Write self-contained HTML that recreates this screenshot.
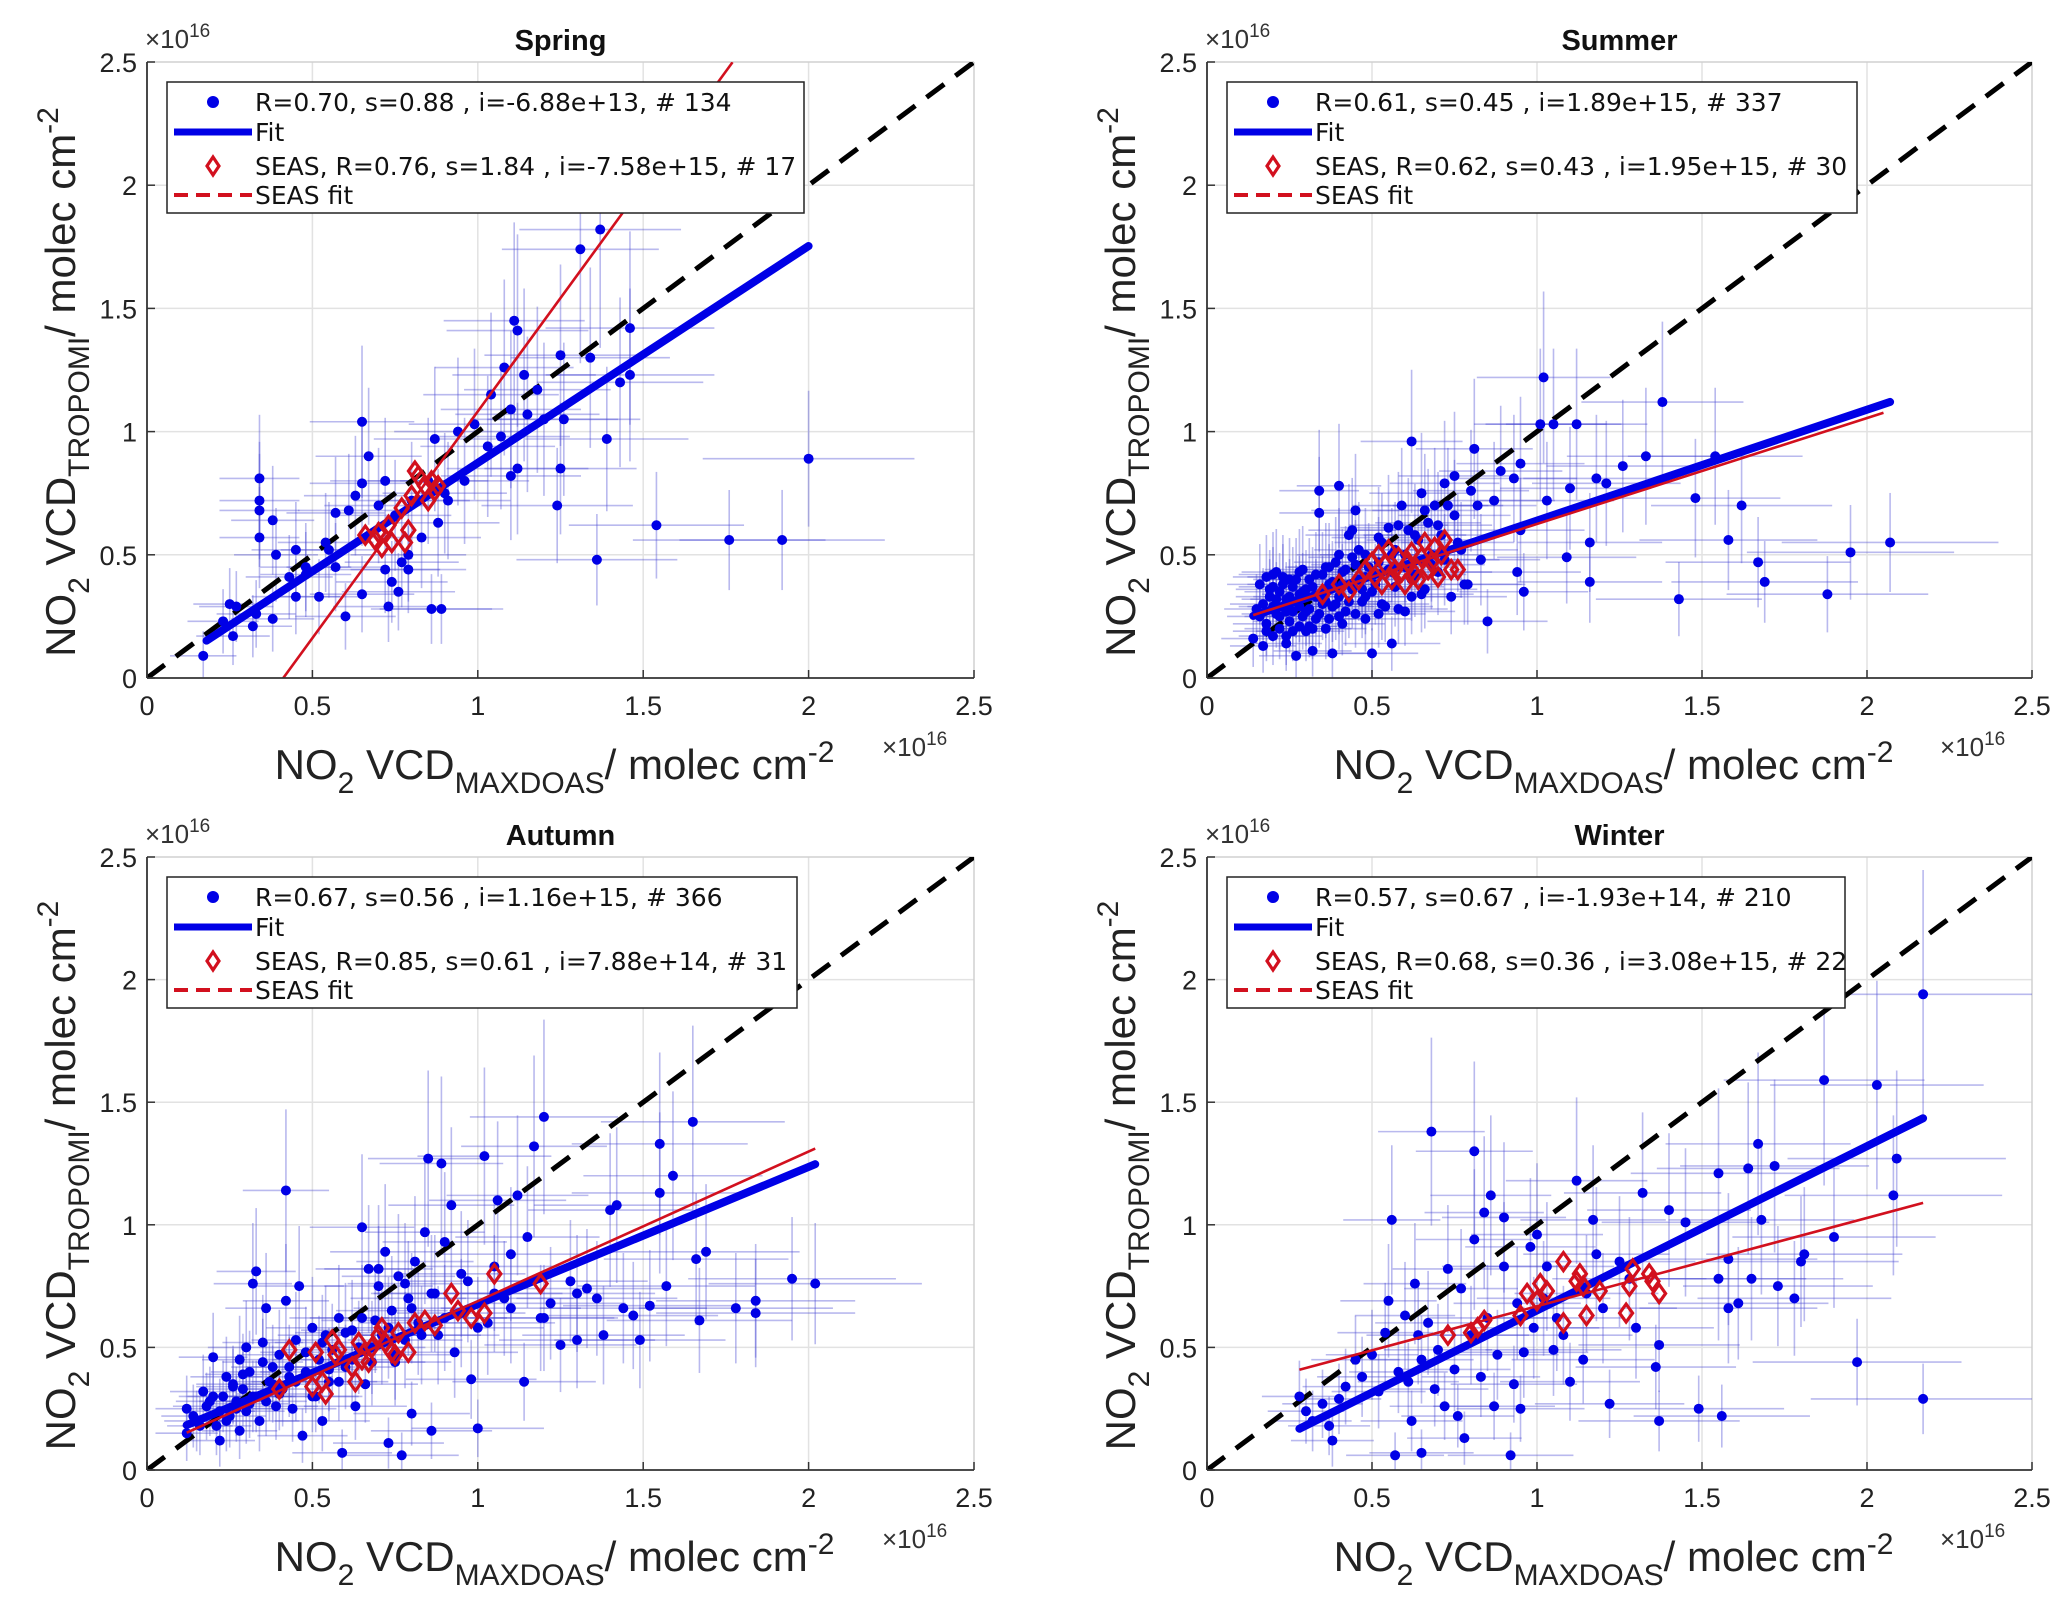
<!DOCTYPE html>
<html><head><meta charset="utf-8"><title>NO2 VCD TROPOMI vs MAXDOAS seasonal scatter</title>
<style>
html,body{margin:0;padding:0;background:#fff;}
svg{display:block;font-family:"Liberation Sans","DejaVu Sans",sans-serif;}
</style></head>
<body>
<svg id="fig" width="2067" height="1599" viewBox="0 0 2067 1599" xmlns="http://www.w3.org/2000/svg"></svg>
<script>
// ---------- data (units of 1e16 molec cm^-2) ----------
const tickValues = [0, 0.5, 1, 1.5, 2, 2.5];
const tickLabels = ["0", "0.5", "1", "1.5", "2", "2.5"];
const seasonNames = ["Spring", "Summer", "Autumn", "Winter"];
const legendStats = ["R=0.70, s=0.88 , i=-6.88e+13, # 134", "R=0.61, s=0.45 , i=1.89e+15, # 337", "R=0.67, s=0.56 , i=1.16e+15, # 366", "R=0.57, s=0.67 , i=-1.93e+14, # 210"];
const legendSeas = ["SEAS, R=0.76, s=1.84 , i=-7.58e+15, # 17", "SEAS, R=0.62, s=0.43 , i=1.95e+15, # 30", "SEAS, R=0.85, s=0.61 , i=7.88e+14, # 31", "SEAS, R=0.68, s=0.36 , i=3.08e+15, # 22"];
const fitSlope = [0.88, 0.45, 0.56, 0.67];
const fitIntercept = [-0.00688, 0.189, 0.116, -0.0193];
const fitRange = [[0.18, 2.0], [0.14, 2.07], [0.12, 2.02], [0.28, 2.17]];
const seasSlope = [1.84, 0.43, 0.61, 0.36];
const seasIntercept = [-0.758, 0.195, 0.0788, 0.308];
const seasRange = [[0.41, 1.77], [0.14, 2.05], [0.12, 2.02], [0.28, 2.17]];

const springX = [0.17,0.23,0.25,0.26,0.27,0.32,0.33,0.34,0.34,0.34,0.34,0.38,0.38,0.39,0.43,0.45,0.45,0.48,0.48,0.52,0.54,0.55,0.57,0.57,0.6,0.61,0.63,0.65,0.65,0.65,0.67,0.7,0.72,0.72,0.73,0.74,0.75,0.76,0.77,0.79,0.79,0.8,0.83,0.85,0.86,0.87,0.88,0.89,0.9,0.91,0.94,0.96,0.99,1.03,1.04,1.07,1.08,1.1,1.1,1.11,1.12,1.12,1.14,1.15,1.18,1.2,1.24,1.25,1.25,1.26,1.31,1.34,1.36,1.37,1.39,1.43,1.46,1.46,1.54,1.76,1.92,2.0];
const springY = [0.09,0.23,0.3,0.17,0.29,0.21,0.26,0.81,0.72,0.68,0.57,0.24,0.64,0.5,0.41,0.52,0.33,0.45,0.42,0.33,0.55,0.52,0.45,0.67,0.25,0.68,0.74,0.34,0.79,1.04,0.9,0.7,0.8,0.44,0.29,0.39,0.66,0.35,0.47,0.5,0.44,0.72,0.57,0.8,0.28,0.97,0.63,0.28,0.75,0.72,1.0,0.8,1.03,0.94,1.15,0.98,1.26,0.82,1.09,1.45,1.41,0.85,1.23,1.07,1.17,1.05,0.7,1.31,0.85,1.05,1.74,1.3,0.48,1.82,0.97,1.2,1.42,1.23,0.62,0.56,0.56,0.89];
const springSeasX = [0.66,0.69,0.7,0.71,0.73,0.74,0.77,0.78,0.79,0.8,0.81,0.82,0.84,0.85,0.86,0.87,0.88];
const springSeasY = [0.58,0.56,0.59,0.53,0.62,0.55,0.69,0.55,0.6,0.74,0.84,0.82,0.78,0.72,0.8,0.76,0.78];

const summerX = [0.14,0.15,0.16,0.17,0.17,0.18,0.18,0.19,0.2,0.2,0.21,0.21,0.22,0.22,0.23,0.23,0.24,0.24,0.25,0.25,0.26,0.26,0.27,0.27,0.28,0.28,0.29,0.29,0.3,0.3,0.31,0.31,0.32,0.33,0.33,0.34,0.34,0.35,0.35,0.36,0.37,0.37,0.38,0.38,0.39,0.4,0.4,0.41,0.41,0.42,0.43,0.43,0.44,0.45,0.45,0.46,0.47,0.48,0.48,0.49,0.5,0.51,0.52,0.53,0.54,0.55,0.56,0.56,0.57,0.58,0.59,0.6,0.61,0.62,0.62,0.63,0.64,0.65,0.66,0.67,0.68,0.69,0.7,0.71,0.72,0.74,0.75,0.75,0.77,0.78,0.8,0.81,0.83,0.85,0.87,0.89,0.93,0.94,0.95,0.95,0.96,1.01,1.02,1.03,1.05,1.09,1.1,1.12,1.16,1.16,1.18,1.21,1.26,1.33,1.38,1.43,1.48,1.54,1.58,1.62,1.67,1.69,1.88,1.95,2.07];
const summerY = [0.16,0.28,0.38,0.13,0.3,0.22,0.41,0.33,0.17,0.37,0.26,0.43,0.2,0.35,0.29,0.41,0.14,0.32,0.23,0.4,0.27,0.37,0.09,0.31,0.21,0.34,0.25,0.44,0.19,0.36,0.28,0.4,0.11,0.24,0.33,0.76,0.67,0.3,0.42,0.2,0.38,0.45,0.1,0.29,0.47,0.33,0.78,0.22,0.38,0.44,0.31,0.58,0.49,0.26,0.68,0.4,0.36,0.5,0.24,0.45,0.1,0.38,0.47,0.55,0.29,0.61,0.14,0.43,0.52,0.28,0.7,0.45,0.6,0.33,0.96,0.42,0.56,0.75,0.36,0.63,0.5,0.7,0.43,0.58,0.79,0.33,0.66,0.82,0.52,0.38,0.76,0.93,0.48,0.23,0.72,0.84,0.81,0.43,0.87,0.6,0.35,1.03,1.22,0.72,1.03,0.49,0.77,1.03,0.55,0.39,0.81,0.79,0.86,0.9,1.12,0.32,0.73,0.9,0.56,0.7,0.47,0.39,0.34,0.51,0.55];
const summerX2 = [0.16,0.18,0.19,0.2,0.21,0.22,0.23,0.24,0.25,0.26,0.27,0.28,0.29,0.3,0.31,0.32,0.33,0.34,0.35,0.36,0.37,0.38,0.39,0.4,0.41,0.42,0.44,0.45,0.46,0.47,0.48,0.5,0.52,0.53,0.55,0.57,0.58,0.6,0.62,0.63,0.65,0.66,0.68,0.7,0.72,0.73,0.76,0.79,0.82,0.2,0.24,0.28,0.32,0.36,0.4,0.44,0.48,0.52,0.56,0.6];
const summerY2 = [0.25,0.19,0.36,0.29,0.32,0.25,0.38,0.27,0.33,0.19,0.4,0.29,0.35,0.27,0.21,0.37,0.42,0.26,0.34,0.45,0.24,0.39,0.3,0.5,0.43,0.27,0.36,0.46,0.52,0.31,0.41,0.35,0.57,0.3,0.44,0.37,0.62,0.5,0.4,0.58,0.34,0.68,0.46,0.62,0.48,0.7,0.55,0.38,0.7,0.42,0.17,0.43,0.2,0.31,0.25,0.6,0.33,0.26,0.5,0.27];
const summerSeasX = [0.35,0.4,0.43,0.46,0.48,0.5,0.51,0.52,0.53,0.54,0.55,0.56,0.57,0.58,0.59,0.6,0.61,0.62,0.63,0.64,0.65,0.66,0.67,0.68,0.69,0.7,0.71,0.72,0.74,0.76];
const summerSeasY = [0.34,0.38,0.35,0.4,0.44,0.47,0.41,0.5,0.38,0.46,0.52,0.4,0.44,0.49,0.43,0.38,0.47,0.51,0.42,0.4,0.49,0.55,0.44,0.47,0.53,0.41,0.5,0.56,0.44,0.44];

const autumnX = [0.12,0.12,0.15,0.17,0.19,0.2,0.21,0.22,0.23,0.24,0.25,0.26,0.27,0.28,0.28,0.29,0.3,0.3,0.31,0.32,0.32,0.33,0.34,0.35,0.36,0.37,0.38,0.39,0.4,0.41,0.42,0.42,0.43,0.44,0.45,0.46,0.47,0.48,0.5,0.51,0.52,0.53,0.54,0.55,0.56,0.58,0.59,0.6,0.62,0.63,0.64,0.65,0.66,0.67,0.68,0.69,0.7,0.71,0.72,0.73,0.74,0.75,0.76,0.77,0.78,0.79,0.8,0.81,0.82,0.84,0.85,0.86,0.87,0.88,0.89,0.9,0.92,0.93,0.95,0.97,0.98,1.0,1.02,1.03,1.05,1.06,1.08,1.1,1.12,1.14,1.15,1.17,1.19,1.2,1.22,1.25,1.28,1.3,1.33,1.36,1.38,1.4,1.42,1.44,1.47,1.49,1.52,1.55,1.55,1.57,1.59,1.65,1.66,1.67,1.69,1.78,1.84,1.84,1.95,2.02];
const autumnY = [0.15,0.25,0.2,0.32,0.28,0.46,0.18,0.12,0.3,0.38,0.22,0.35,0.28,0.45,0.16,0.33,0.5,0.24,0.4,0.76,0.3,0.81,0.2,0.52,0.66,0.36,0.42,0.26,0.47,0.33,1.14,0.69,0.38,0.25,0.53,0.75,0.14,0.4,0.58,0.3,0.45,0.2,0.55,0.36,0.49,0.62,0.07,0.42,0.57,0.26,0.5,0.99,0.35,0.82,0.44,0.61,0.75,0.55,0.89,0.11,0.65,0.47,0.79,0.06,0.53,0.7,0.23,0.85,0.6,0.97,1.27,0.16,0.72,0.55,1.25,0.93,1.08,0.48,0.64,0.77,0.37,0.17,1.28,0.6,0.83,1.1,0.7,0.88,1.12,0.36,0.95,1.32,0.62,1.44,0.68,0.51,0.77,0.53,0.74,0.7,0.55,1.06,1.08,0.66,0.63,0.53,0.67,1.33,1.13,0.75,1.2,1.42,0.86,0.61,0.89,0.66,0.69,0.64,0.78,0.76];
const autumnX2 = [0.14,0.16,0.18,0.2,0.22,0.24,0.26,0.27,0.29,0.31,0.33,0.35,0.36,0.38,0.4,0.43,0.45,0.48,0.5,0.53,0.55,0.58,0.6,0.62,0.65,0.68,0.7,0.73,0.75,0.78,0.8,0.83,0.86,0.9,0.95,1.0,1.05,1.1,1.2,1.3];
const autumnY2 = [0.22,0.18,0.26,0.3,0.24,0.2,0.34,0.25,0.39,0.27,0.3,0.44,0.28,0.35,0.31,0.42,0.36,0.48,0.3,0.52,0.41,0.36,0.56,0.45,0.62,0.5,0.82,0.58,0.44,0.76,0.66,0.55,0.72,0.62,0.8,0.58,0.72,0.66,0.62,0.72];
const autumnSeasX = [0.4,0.43,0.5,0.51,0.53,0.54,0.56,0.57,0.58,0.62,0.63,0.64,0.65,0.67,0.68,0.7,0.71,0.72,0.74,0.75,0.76,0.79,0.81,0.84,0.87,0.92,0.94,0.98,1.02,1.05,1.19];
const autumnSeasY = [0.33,0.49,0.34,0.48,0.36,0.31,0.53,0.47,0.49,0.42,0.36,0.52,0.45,0.44,0.5,0.55,0.58,0.52,0.48,0.47,0.56,0.48,0.6,0.61,0.59,0.72,0.65,0.62,0.64,0.8,0.76];

const winterX = [0.28,0.3,0.32,0.35,0.37,0.38,0.4,0.42,0.45,0.47,0.5,0.52,0.54,0.55,0.56,0.57,0.58,0.6,0.61,0.62,0.63,0.64,0.65,0.65,0.67,0.68,0.69,0.7,0.72,0.73,0.75,0.76,0.77,0.78,0.8,0.81,0.81,0.83,0.84,0.85,0.86,0.87,0.88,0.9,0.9,0.92,0.93,0.94,0.95,0.96,0.98,0.99,1.0,1.02,1.03,1.05,1.06,1.08,1.1,1.12,1.14,1.15,1.17,1.18,1.2,1.22,1.25,1.28,1.3,1.32,1.36,1.37,1.37,1.4,1.45,1.49,1.55,1.55,1.56,1.58,1.58,1.61,1.64,1.65,1.67,1.68,1.72,1.73,1.78,1.8,1.81,1.87,1.9,1.97,2.03,2.08,2.09,2.17,2.17];
const winterY = [0.3,0.24,0.2,0.27,0.18,0.12,0.29,0.34,0.45,0.38,0.47,0.32,0.56,0.69,1.02,0.06,0.4,0.63,0.36,0.2,0.76,0.55,0.07,0.45,0.6,1.38,0.33,0.49,0.26,0.82,0.41,0.22,0.74,0.13,0.55,1.3,0.94,0.38,1.05,0.62,1.12,0.26,0.47,1.03,0.83,0.06,0.35,0.68,0.25,0.48,0.91,0.58,0.96,0.7,0.83,0.49,0.62,0.55,0.36,1.18,0.45,0.72,1.02,0.88,0.66,0.27,0.85,0.78,0.58,1.13,0.42,0.51,0.2,1.06,1.01,0.25,0.78,1.21,0.22,0.66,0.86,0.68,1.23,0.78,1.33,1.02,1.24,0.75,0.7,0.85,0.88,1.59,0.95,0.44,1.57,1.12,1.27,0.29,1.94];
const winterSeasX = [0.73,0.8,0.82,0.84,0.95,0.97,1.0,1.01,1.03,1.08,1.08,1.12,1.13,1.14,1.15,1.19,1.27,1.28,1.29,1.34,1.35,1.37];
const winterSeasY = [0.55,0.56,0.58,0.61,0.63,0.72,0.69,0.76,0.73,0.85,0.6,0.77,0.8,0.75,0.63,0.73,0.64,0.75,0.82,0.8,0.77,0.72];

const seasonX = [springX, summerX.concat(summerX2), autumnX.concat(autumnX2), winterX];
const seasonY = [springY, summerY.concat(summerY2), autumnY.concat(autumnY2), winterY];
const seasX = [springSeasX, summerSeasX, autumnSeasX, winterSeasX];
const seasY = [springSeasY, summerSeasY, autumnSeasY, winterSeasY];

// ---------- layout ----------
const NS = "http://www.w3.org/2000/svg";
const svg = document.getElementById("fig");
const panels = [
  {l:147, t:62, r:974, b:678},
  {l:1207, t:62, r:2032, b:678},
  {l:147, t:857, r:974, b:1470},
  {l:1207, t:857, r:2032, b:1470}
];
function mk(tag, attrs, parent) {
  const e = document.createElementNS(NS, tag);
  for (const k in attrs) e.setAttribute(k, attrs[k]);
  (parent || svg).appendChild(e);
  return e;
}

panels.forEach((P, pi) => {
  const W = P.r - P.l, H = P.b - P.t;
  const sx = v => P.l + v / 2.5 * W;
  const sy = v => P.b - v / 2.5 * H;
  const g = mk("g", {});
  
  

  const clipId = "clip" + pi;
  const cp = mk("clipPath", {id: clipId}, g);
  mk("rect", {x: P.l, y: P.t, width: W, height: H}, cp);

  tickValues.forEach(v => {
    if (v > 0 && v < 2.5) {
      const gl = mk("line", {x1: sx(v), x2: sx(v), y1: P.t, y2: P.b, stroke: "#e2e2e2", "stroke-width": 1.5}, g);
      
      
      const gh = mk("line", {x1: P.l, x2: P.r, y1: sy(v), y2: sy(v), stroke: "#e2e2e2", "stroke-width": 1.5}, g);
      
      
    }
  });
  mk("line", {x1: P.l, x2: P.r, y1: P.t, y2: P.t, stroke: "#d0d0d0", "stroke-width": 1.5}, g);
  mk("line", {x1: P.r, x2: P.r, y1: P.t, y2: P.b, stroke: "#d0d0d0", "stroke-width": 1.5}, g);

  const data = mk("g", {"clip-path": "url(#" + clipId + ")"}, g);

  const xs = seasonX[pi], ys = seasonY[pi];
  const eb = mk("g", {stroke: "rgba(70,70,210,0.38)", "stroke-width": 1.6}, data);
  
  
  xs.forEach((x, i) => {
    const y = ys[i];
    const xe = 0.08 + 0.12 * x, ye = 0.08 + 0.22 * y;
    mk("line", {x1: sx(x - xe), x2: sx(x + xe), y1: sy(y), y2: sy(y)}, eb);
    mk("line", {x1: sx(x), x2: sx(x), y1: sy(y - ye), y2: sy(y + ye)}, eb);
  });

  const one = mk("line", {x1: sx(0), y1: sy(0), x2: sx(2.5), y2: sy(2.5), stroke: "#000", "stroke-width": 5, "stroke-dasharray": "22 14"}, data);
  
  

  xs.forEach((x, i) => {
    const c = mk("circle", {cx: sx(x), cy: sy(ys[i]), r: 5, fill: "#0000e6"}, data);
    
    
  });

  const [f0, f1] = fitRange[pi];
  const fit = mk("line", {x1: sx(f0), y1: sy(fitSlope[pi] * f0 + fitIntercept[pi]), x2: sx(f1), y2: sy(fitSlope[pi] * f1 + fitIntercept[pi]), stroke: "#0000e6", "stroke-width": 8, "stroke-linecap": "round"}, data);
  
  

  seasX[pi].forEach((x, i) => {
    const cx = sx(x), cy = sy(seasY[pi][i]);
    const d = mk("polygon", {points: `${cx},${cy-9} ${cx+6.5},${cy} ${cx},${cy+9} ${cx-6.5},${cy}`, fill: "none", stroke: "#d2101e", "stroke-width": 3.2}, data);
    
    
  });

  const [s0, s1] = seasRange[pi];
  const sf = mk("line", {x1: sx(s0), y1: sy(seasSlope[pi] * s0 + seasIntercept[pi]), x2: sx(s1), y2: sy(seasSlope[pi] * s1 + seasIntercept[pi]), stroke: "#d2101e", "stroke-width": 2.6}, data);
  
  

  mk("line", {x1: P.l, x2: P.l, y1: P.t, y2: P.b, stroke: "#333", "stroke-width": 1.8}, g);
  mk("line", {x1: P.l, x2: P.r, y1: P.b, y2: P.b, stroke: "#333", "stroke-width": 1.8}, g);

  tickValues.forEach((v, i) => {
    const tx = mk("text", {x: sx(v), y: P.b + 37, "font-size": 27, "text-anchor": "middle", fill: "#222"}, g);
    tx.textContent = tickLabels[i];
    
    
    const ty = mk("text", {x: P.l - 10, y: sy(v) + 10, "font-size": 27, "text-anchor": "end", fill: "#222"}, g);
    ty.textContent = tickLabels[i];
    
    
    mk("line", {x1: P.l, x2: P.l + 8, y1: sy(v), y2: sy(v), stroke: "#333", "stroke-width": 1.5}, g);
    mk("line", {x1: sx(v), x2: sx(v), y1: P.b, y2: P.b - 8, stroke: "#333", "stroke-width": 1.5}, g);
  });

  const ey = mk("text", {x: P.l - 2, y: P.t - 14, "font-size": 26, fill: "#333"}, g);
  ey.innerHTML = '×10<tspan dy="-11" font-size="19">16</tspan>';
  
  
  const ex = mk("text", {x: P.r - 92, y: P.b + 78, "font-size": 26, fill: "#333"}, g);
  ex.innerHTML = '×10<tspan dy="-11" font-size="19">16</tspan>';
  
  

  const ti = mk("text", {x: (P.l + P.r) / 2, y: P.t - 12, "font-size": 29, "font-weight": "bold", "text-anchor": "middle", fill: "#111"}, g);
  ti.textContent = seasonNames[pi];
  
  

  const xl = mk("text", {x: (P.l + P.r) / 2 - 6, y: P.b + 101, "font-size": 42, "text-anchor": "middle", fill: "#222"}, g);
  xl.innerHTML = 'NO<tspan dy="14" font-size="30">2</tspan><tspan dy="-14"> VCD</tspan><tspan dy="14" font-size="30">MAXDOAS</tspan><tspan dy="-14">/ molec cm</tspan><tspan dy="-17" font-size="30">-2</tspan>';
  
  

  const cyl = (P.t + P.b) / 2 + 12;
  const yl = mk("text", {x: 0, y: 0, "font-size": 42, "text-anchor": "middle", fill: "#222", transform: `translate(${P.l - 72},${cyl}) rotate(-90)`}, g);
  yl.innerHTML = 'NO<tspan dy="14" font-size="30">2</tspan><tspan dy="-14"> VCD</tspan><tspan dy="14" font-size="30">TROPOMI</tspan><tspan dy="-14">/ molec cm</tspan><tspan dy="-17" font-size="30">-2</tspan>';
  
  

  const LW = [637, 630, 630, 618][pi];
  const L = {x: P.l + 20, y: P.t + 20, w: LW, h: 131};
  const lg = mk("g", {}, g);
  
  
  mk("rect", {x: L.x, y: L.y, width: L.w, height: L.h, fill: "#fff", stroke: "#222", "stroke-width": 1.5}, lg);
  const rows = [L.y + 20, L.y + 50, L.y + 84, L.y + 113];
  const tx0 = L.x + 88;
  mk("circle", {cx: L.x + 46, cy: rows[0], r: 6, fill: "#0000e6"}, lg);
  mk("line", {x1: L.x + 7, x2: L.x + 85, y1: rows[1], y2: rows[1], stroke: "#0000e6", "stroke-width": 7}, lg);
  const lc = L.x + 46, lr = rows[2];
  mk("polygon", {points: `${lc},${lr-9} ${lc+6},${lr} ${lc},${lr+9} ${lc-6},${lr}`, fill: "none", stroke: "#d2101e", "stroke-width": 3.2}, lg);
  mk("line", {x1: L.x + 7, x2: L.x + 85, y1: rows[3], y2: rows[3], stroke: "#d2101e", "stroke-width": 4, "stroke-dasharray": "14 8"}, lg);
  const texts = [legendStats[pi], "Fit", legendSeas[pi], "SEAS fit"];
  const names = ['legend-entry-data', 'legend-entry-fit', 'legend-entry-seas', 'legend-entry-seas-fit'];
  texts.forEach((s, i) => {
    const t = mk("text", {x: tx0, y: rows[i] + 9, "font-size": 25, fill: "#111", "font-family": "DejaVu Sans, Liberation Sans, sans-serif"}, lg);
    t.textContent = s;
    
    
  });
});
</script>
</body></html>
